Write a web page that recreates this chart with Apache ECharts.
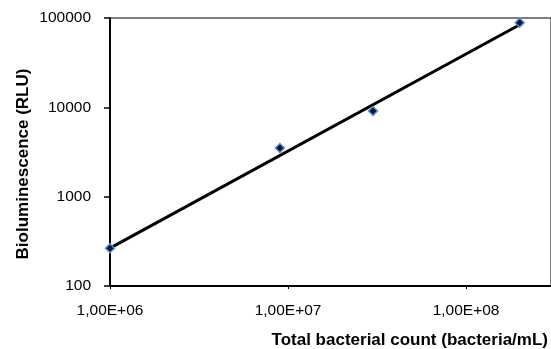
<!DOCTYPE html>
<html>
<head>
<meta charset="utf-8">
<script src="https://cdn.jsdelivr.net/npm/echarts@6/dist/echarts.min.js"></script>
<style>html,body{margin:0;padding:0;background:#fff;}#c{width:551px;height:349px;}</style>
</head>
<body>
<div id="c"></div>
<script>
const countX = [1e6, 9e6, 3e7, 2e8];
const rluY = [265, 3500, 9100, 88500];
const trendX = [1e6, 2e8];
const trendY = [265, 84000];
const yTicks = [100, 1000, 10000, 100000];
const xTitle = 'Total bacterial count (bacteria/mL)';
const yTitle = 'Bioluminescence (RLU)';

const FONT = '"Liberation Sans", Arial, sans-serif';
function sci(v) {
  const e = Math.round(Math.log10(v));
  if (Math.abs(Math.log10(v) - e) > 1e-6) return '';
  return '1,00E+' + (e < 10 ? '0' + e : e);
}
const chart = echarts.init(document.getElementById('c'));
chart.setOption({
  animation: false,
  backgroundColor: '#fff',
  grid: { left: 110, top: 18, bottom: 63, right: -5, show: true, borderColor: '#000', borderWidth: 1 },
  xAxis: {
    type: 'log', logBase: 10, min: 1e6, max: 3e8,
    axisLine: { lineStyle: { color: '#000', width: 2 } },
    axisTick: { show: true, length: 3, lineStyle: { color: '#000', width: 1 } },
    axisLabel: { showMaxLabel: false, margin: 17, color: '#000', fontFamily: FONT, fontSize: 15.5, formatter: sci },
    splitLine: { show: false }
  },
  yAxis: {
    type: 'log', logBase: 10, min: 100, max: 100000,
    axisLine: { lineStyle: { color: '#000', width: 2 } },
    axisTick: { show: true, length: 6, lineStyle: { color: '#000', width: 1.5 } },
    axisLabel: { margin: 19, color: '#000', fontFamily: FONT, fontSize: 15.5, formatter: v => String(Math.round(v)) },
    splitLine: { show: false }
  },
  graphic: [
    { type: 'text', x: 548, y: 340, style: { text: xTitle, font: 'bold 17px ' + FONT, fill: '#000', textAlign: 'right', textVerticalAlign: 'middle' } },
    { type: 'text', x: 23, y: 164, rotation: Math.PI / 2, style: { text: yTitle, font: 'bold 17px ' + FONT, fill: '#000', textAlign: 'center', textVerticalAlign: 'middle' } }
  ],
  series: [
    {
      type: 'line', data: trendX.map((x, i) => [x, trendY[i]]),
      showSymbol: false, symbol: 'none', clip: false, z: 2,
      lineStyle: { color: '#000', width: 3 }
    },
    {
      type: 'scatter', data: countX.map((x, i) => [x, rluY[i]]),
      symbol: 'diamond', symbolSize: 9, clip: false, z: 3,
      itemStyle: { color: '#0b1530', borderColor: '#5b8fd0', borderWidth: 1.5, opacity: 1 }
    }
  ]
});
</script>
</body>
</html>
